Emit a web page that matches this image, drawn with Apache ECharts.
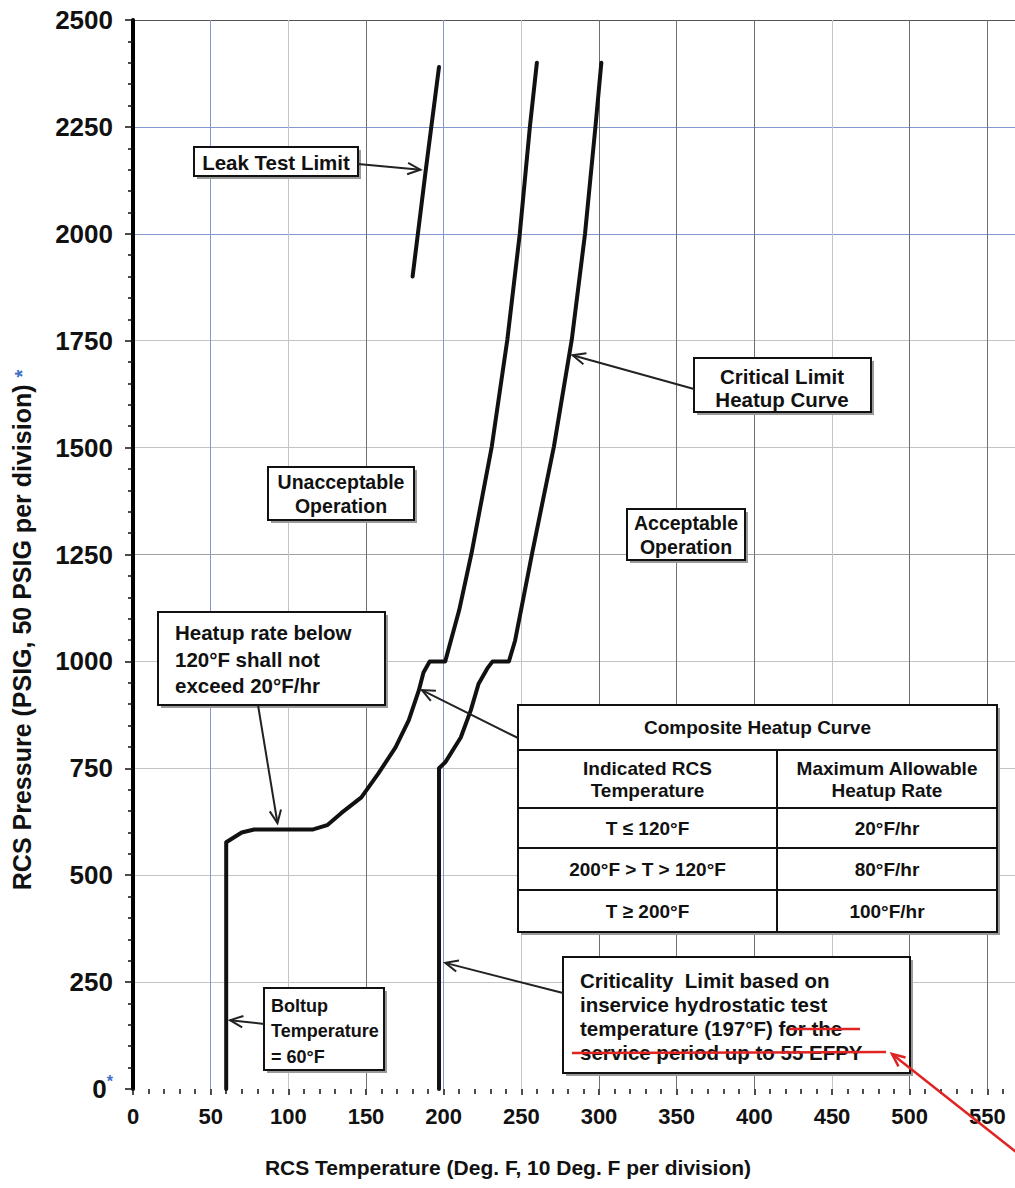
<!DOCTYPE html>
<html>
<head>
<meta charset="utf-8">
<script src="https://cdn.jsdelivr.net/npm/echarts@6/dist/echarts.min.js"></script>
<style>
  html, body { margin: 0; padding: 0; background: #fff; }
  #chart { width: 1015px; height: 1188px; }
</style>
</head>
<body>
<div id="chart"></div>
<script>
// ---- Curve data: RCS temperature (deg F) and pressure (psig) ----
const leakTestTemp  = [180, 188.5, 197];
const leakTestPress = [1900, 2150, 2390];

const compositeTemp  = [60, 60, 70, 78, 116, 125, 134, 147, 158, 169, 177.5, 184, 187, 191, 201, 210, 218, 231, 241, 249, 255.5, 260];
const compositePress = [0, 577, 600, 607, 607, 617, 645, 682, 738, 799, 862, 932, 974, 1000, 1000, 1120, 1254, 1503, 1753, 2000, 2250, 2400];

const criticalTemp  = [197, 197, 201, 211, 217.5, 222.5, 228, 231.5, 242, 246, 257, 271, 282.5, 291, 297.7, 301.5];
const criticalPress = [0, 750, 764, 822, 886, 948, 983, 1000, 1000, 1049, 1254, 1503, 1753, 2000, 2250, 2400];

// ---- Tick labels ----
const xTicks = [0, 50, 100, 150, 200, 250, 300, 350, 400, 450, 500, 550];
const yTicks = [0, 250, 500, 750, 1000, 1250, 1500, 1750, 2000, 2250, 2500];

// ---- Heatup rate table ----
const tableTitle = 'Composite Heatup Curve';
const tableHeader = ['Indicated RCS\nTemperature', 'Maximum Allowable\nHeatup Rate'];
const tableTemps = ['T \u2264 120\u00B0F', '200\u00B0F > T > 120\u00B0F', 'T \u2265 200\u00B0F'];
const tableRates = ['20\u00B0F/hr', '80\u00B0F/hr', '100\u00B0F/hr'];

const FONT = '"Liberation Sans", Arial, Helvetica, sans-serif';
const INK = '#111';

const BLUE = '#8497d0', LIGHT = '#c4c4c4', MID = '#a0a0a0', DARK = '#707070';
// grid line tones, starting at the first line after the axis origin
const xGridColors = [BLUE, LIGHT, DARK, BLUE, LIGHT, DARK, DARK, DARK, LIGHT, DARK, DARK, DARK];
const yGridColors = [LIGHT, LIGHT, LIGHT, LIGHT, MID, LIGHT, LIGHT, BLUE, BLUE, '#555555'];

function pairs(xs, ys) { return xs.map((x, i) => [x, ys[i]]); }

const curve = (name, xs, ys) => ({
  name, type: 'line', data: pairs(xs, ys),
  symbol: 'none', showSymbol: false, silent: true, z: 5,
  lineStyle: { color: INK, width: 4, join: 'round', cap: 'round' }
});

const chart = echarts.init(document.getElementById('chart'), null, { renderer: 'svg' });

chart.setOption({
  animation: false,
  backgroundColor: '#fff',
  grid: { left: 133, right: -50, top: 20, bottom: 99, containLabel: false, outerBoundsMode: 'none' },
  xAxis: {
    type: 'value', min: 0, max: 600, interval: 50,
    axisLine: { show: false },
    axisTick: { show: true, length: 6, lineStyle: { color: INK, width: 1.5 } },
    minorTick: { show: true, splitNumber: 5, length: 5, lineStyle: { color: INK, width: 1.5 } },
    axisLabel: {
      margin: 16, color: INK, fontFamily: FONT, fontWeight: 'bold', fontSize: 22,
      formatter: v => (xTicks.indexOf(v) >= 0 ? String(v) : '')
    },
    splitLine: { show: true, showMinLine: false, showMaxLine: false, lineStyle: { color: xGridColors, width: 1 } }
  },
  yAxis: {
    type: 'value', min: 0, max: 2500, interval: 250,
    axisLine: { show: true, lineStyle: { color: '#000', width: 4 } },
    axisTick: { show: true, length: 8, lineStyle: { color: INK, width: 1.5 } },
    minorTick: { show: true, splitNumber: 5, length: 5, lineStyle: { color: INK, width: 1.5 } },
    axisLabel: {
      margin: 20, color: INK, fontFamily: FONT, fontWeight: 'bold', fontSize: 26,
      formatter: v => (v === 0 ? '0{s|*}' : (yTicks.indexOf(v) >= 0 ? String(v) : '')),
      rich: { s: { color: '#3f6fc9', fontSize: 16, fontWeight: 'bold', padding: [0, 0, 16, 0] } }
    },
    splitLine: { show: true, showMinLine: false, lineStyle: { color: yGridColors, width: 1 } }
  },
  series: [
    curve('Leak Test Limit', leakTestTemp, leakTestPress),
    curve('Composite Heatup Curve', compositeTemp, compositePress),
    curve('Critical Limit Heatup Curve', criticalTemp, criticalPress)
  ]
});

// ---- Annotations ----
const px = p => chart.convertToPixel({ gridIndex: 0 }, p);

function box(x, y, w, h) {
  return [
    { type: 'rect', shape: { x: x + 3, y: y + 3, width: w, height: h }, style: { fill: '#9a9a9a' }, z: 20 },
    { type: 'rect', shape: { x, y, width: w, height: h }, style: { fill: '#fff', stroke: INK, lineWidth: 2 }, z: 21 }
  ];
}
function label(x, y, str, size, align, lh) {
  return {
    type: 'text', x, y, z: 22,
    style: {
      text: str, fill: INK, fontFamily: FONT, fontWeight: 'bold', fontSize: size,
      align: align || 'center', verticalAlign: 'middle', lineHeight: lh || Math.round(size * 1.2)
    }
  };
}
function seg(x1, y1, x2, y2, color, w, z) {
  return { type: 'line', shape: { x1, y1, x2, y2 }, style: { stroke: color, lineWidth: w }, z: z || 23 };
}
function arrow(from, to, color, w) {
  const a = Math.atan2(to[1] - from[1], to[0] - from[0]);
  const L = 14, s = 0.42;
  const p1 = [to[0] - L * Math.cos(a - s), to[1] - L * Math.sin(a - s)];
  const p2 = [to[0] - L * Math.cos(a + s), to[1] - L * Math.sin(a + s)];
  return [
    seg(from[0], from[1], to[0], to[1], color, w, 24),
    { type: 'polyline', shape: { points: [p1, to, p2] }, style: { stroke: color, lineWidth: w, fill: null }, z: 24 }
  ];
}

const g = [];
// Leak test limit
g.push(...box(194, 147, 164, 29));
g.push(label(276, 162, 'Leak Test Limit', 20.5));
g.push(...arrow([358, 164], px([185, 2150]), '#222', 2));

// Region labels
g.push(...box(268, 467, 146, 53));
g.push(label(341, 494, 'Unacceptable\nOperation', 19.5, 'center', 24));
g.push(...box(627, 509, 118, 51));
g.push(label(686, 535, 'Acceptable\nOperation', 19.5, 'center', 24));

// Critical limit heatup curve
g.push(...box(694, 358, 177, 54));
g.push(label(782, 388, 'Critical Limit\nHeatup Curve', 20.5, 'center', 23));
g.push(...arrow([694, 389], px([283, 1716]), '#222', 2));

// Heatup rate note
g.push(...box(158, 612, 227, 93));
g.push(label(175, 659, 'Heatup rate below\n120\u00B0F shall not\nexceed 20\u00B0F/hr', 20.5, 'left', 26.5));
g.push(...arrow([258, 705], px([93, 622]), '#222', 2));

// Heatup rate table
const tx = 518, ty = 705, tw = 479, th = 227, colX = 777;
const rowY = [750, 808, 848, 890];
g.push(...box(tx, ty, tw, th));
rowY.forEach(y => g.push(seg(tx, y, tx + tw, y, INK, 2)));
g.push(seg(colX, rowY[0], colX, ty + th, INK, 2));
const c1 = (tx + colX) / 2, c2 = (colX + tx + tw) / 2;
g.push(label((tx + tx + tw) / 2, (ty + rowY[0]) / 2, tableTitle, 19));
g.push(label(c1, (rowY[0] + rowY[1]) / 2, tableHeader[0], 19, 'center', 22));
g.push(label(c2, (rowY[0] + rowY[1]) / 2, tableHeader[1], 19, 'center', 22));
const rowMid = [(rowY[1] + rowY[2]) / 2, (rowY[2] + rowY[3]) / 2, (rowY[3] + ty + th) / 2];
tableTemps.forEach((t, i) => {
  g.push(label(c1, rowMid[i], t, 19));
  g.push(label(c2, rowMid[i], tableRates[i], 19));
});
g.push(...arrow([518, 738], px([186, 933]), '#222', 2));

// Boltup temperature
g.push(...box(264, 988, 120, 82));
g.push(label(271, 1031, 'Boltup\nTemperature\n= 60\u00B0F', 18, 'left', 25.5));
g.push(...arrow([264, 1024], px([62.5, 161]), '#222', 2));

// Criticality limit note (last part struck through)
g.push(...box(563, 957, 347, 116));
g.push(label(580, 1016, 'Criticality  Limit based on\ninservice hydrostatic test\ntemperature (197\u00B0F) for the\nservice period up to 55 EFPY', 20.5, 'left', 24));
g.push(seg(789, 1029, 860, 1029, '#e02424', 2.5, 25));
g.push(seg(572, 1053, 886, 1052, '#e02424', 2.5, 25));
g.push(...arrow([563, 993], px([201, 295]), '#222', 2));
g.push(...arrow([1016, 1152], [892, 1054], '#e02424', 2.5));

// Axis titles
g.push({
  type: 'text', x: 508, y: 1167, z: 22,
  style: { text: 'RCS Temperature (Deg. F, 10 Deg. F per division)', fill: INK, fontFamily: FONT, fontWeight: 'bold', fontSize: 21, align: 'center', verticalAlign: 'middle' }
});
g.push({
  type: 'text', x: 22, y: 630, rotation: Math.PI / 2, z: 22,
  style: {
    text: 'RCS Pressure (PSIG, 50 PSIG per division) {s|*}', fill: INK, fontFamily: FONT, fontWeight: 'bold', fontSize: 25,
    align: 'center', verticalAlign: 'middle',
    rich: { s: { fill: '#3f6fc9', fontSize: 20, fontWeight: 'bold', fontFamily: FONT } }
  }
});

chart.setOption({ graphic: g });
</script>
</body>
</html>
